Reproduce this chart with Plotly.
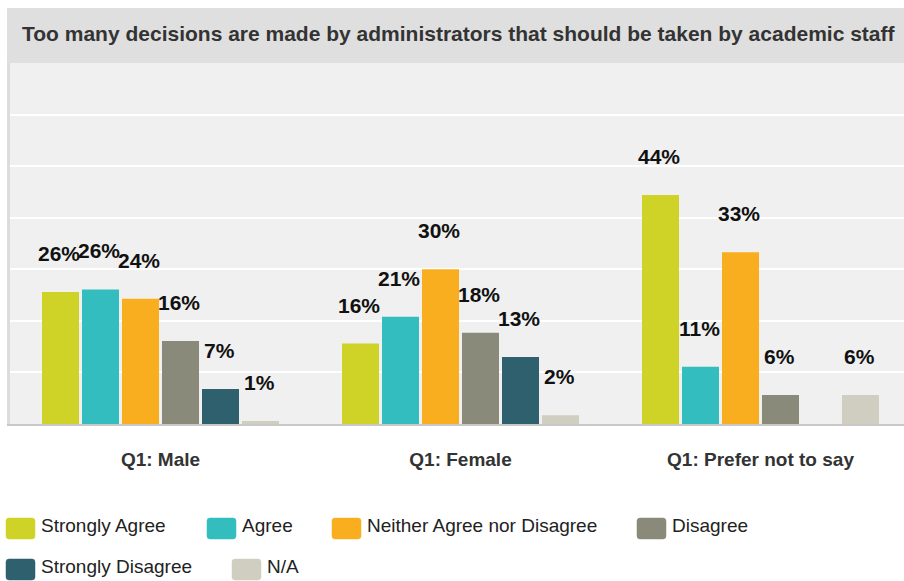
import plotly.graph_objects as go

# Survey results: share of respondents (%) by gender group
categories = ["Q1: Male", "Q1: Female", "Q1: Prefer not to say"]
responses = ["Strongly Agree", "Agree", "Neither Agree nor Disagree",
             "Disagree", "Strongly Disagree", "N/A"]
strongly_agree = [25.6, 15.6, 44.4]
agree = [26.1, 20.8, 11.1]
neither = [24.3, 30.0, 33.3]
disagree = [16.1, 17.7, 5.6]
strongly_disagree = [6.8, 13.0, 0.0]
not_applicable = [0.6, 1.7, 5.6]
series = [strongly_agree, agree, neither, disagree, strongly_disagree, not_applicable]
colors = ["#d0d327", "#33bdbf", "#f8ae1f", "#8a8a7a", "#2e606e", "#d0cec0"]
title = "Too many decisions are made by administrators that should be taken by academic staff"

W, H = 904, 581
ML, MR, MT, MB = 10, 0, 63, 157
PW, PH = W - ML - MR, H - MT - MB
FONT = "Liberation Sans, Arial, sans-serif"
BARGAP, GROUPGAP = 0.2, 0.075


def px_x(x):
    return (x - ML) / PW


def px_y(y):
    return (H - MB - y) / PH


fig = go.Figure()
xs = list(range(len(categories)))
for name, vals, col in zip(responses, series, colors):
    fig.add_trace(go.Bar(x=xs, y=vals, name=name, marker_color=col,
                         marker_line_width=0, showlegend=False,
                         hovertemplate="%{y:.1f}%<extra>" + name + "</extra>"))

annotations = []
# value labels above each bar
slot = (1 - BARGAP) / len(series)
for i, vals in enumerate(series):
    for g, v in enumerate(vals):
        if v <= 0:
            continue
        annotations.append(dict(
            x=g + (i - (len(series) - 1) / 2) * slot, y=v, xref="x", yref="y",
            text=f"{v:.0f}%", showarrow=False, yanchor="bottom", xanchor="center",
            yshift=25, xshift=-1.5,
            font=dict(family=FONT, size=21, color="#111111", weight="bold")))

# title bar
annotations.append(dict(
    x=px_x(459), y=px_y(33.5), xref="paper", yref="paper", text=title,
    showarrow=False, xanchor="center", yanchor="middle",
    font=dict(family=FONT, size=21, color="#333333", weight="bold")))

shapes = [dict(type="rect", xref="paper", yref="paper", x0=px_x(7), x1=px_x(W),
               y0=px_y(8), y1=px_y(MT), fillcolor="#dfdfdf", line_width=0, layer="below")]


def rounded(x0, y0, x1, y1, r):
    pts = lambda x, y: f"{px_x(x):.5f},{px_y(y):.5f}"
    return (f"M {pts(x0 + r, y0)} L {pts(x1 - r, y0)} Q {pts(x1, y0)} {pts(x1, y0 + r)} "
            f"L {pts(x1, y1 - r)} Q {pts(x1, y1)} {pts(x1 - r, y1)} "
            f"L {pts(x0 + r, y1)} Q {pts(x0, y1)} {pts(x0, y1 - r)} "
            f"L {pts(x0, y0 + r)} Q {pts(x0, y0)} {pts(x0 + r, y0)} Z")


# legend laid out in two flowing rows
legend_slots = [(6, 528.5), (207, 528.5), (332, 528.5), (637, 528.5), (6, 569.5), (232, 569.5)]
for (lx, ly), name, col in zip(legend_slots, responses, colors):
    shapes.append(dict(type="path", xref="paper", yref="paper",
                       path=rounded(lx, ly - 10.5, lx + 29, ly + 10.5, 3),
                       fillcolor=col, line=dict(color=col, width=0.5)))
    annotations.append(dict(x=px_x(lx + 33), y=px_y(ly - 3.5), xref="paper", yref="paper",
                            text=name, showarrow=False, xanchor="left", yanchor="middle",
                            font=dict(family=FONT, size=19, color="#222222")))

fig.update_layout(
    width=W, height=H, margin=dict(l=ML, r=MR, t=MT, b=MB, pad=0),
    paper_bgcolor="white", plot_bgcolor="#f0f0f0",
    barmode="group", bargap=BARGAP, bargroupgap=GROUPGAP,
    annotations=annotations, shapes=shapes,
    xaxis=dict(range=[(ML - 160.5) / 300, (W - 160.5) / 300], tickvals=xs, ticktext=categories,
               showgrid=False, zeroline=False, showline=True, linecolor="#c8c8c8",
               linewidth=2, ticks="", ticklabelstandoff=17,
               tickfont=dict(family=FONT, size=19, color="#333333", weight="bold")),
    yaxis=dict(range=[0, 70], tickvals=[10, 20, 30, 40, 50, 60], showticklabels=False,
               showgrid=True, gridcolor="white", gridwidth=2, zeroline=False,
               showline=True, linecolor="#dcdcdc", linewidth=3, ticks=""),
    hovermode="closest",
)

fig.write_html("out.html")
